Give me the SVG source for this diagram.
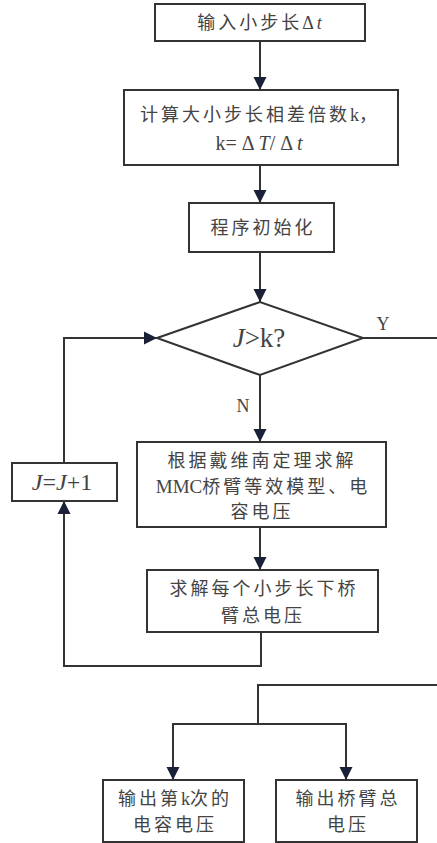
<svg xmlns="http://www.w3.org/2000/svg" width="437" height="843" viewBox="0 0 437 843">
<style>
.box{fill:#fff;stroke:#333;stroke-width:2}
.ln{fill:none;stroke:#333;stroke-width:2}
.t{font-family:"Liberation Serif","Noto Sans CJK SC",serif;font-size:18px;fill:#444;text-anchor:middle;letter-spacing:3px}
.lat{font-family:"Liberation Serif",serif;font-size:20px;fill:#444;text-anchor:middle}
.it{font-style:italic}
.ns{letter-spacing:0}
</style>
<defs>
<marker id="ah" markerWidth="13" markerHeight="16" refX="13" refY="7.5" orient="auto" markerUnits="userSpaceOnUse">
<path d="M0,1 L13,7.5 L0,14 Z" fill="#1a2038"/>
</marker>
</defs>
<rect width="437" height="843" fill="#fff"/>
<g id="connectors">
<line class="ln" x1="260" y1="41" x2="260" y2="90" marker-end="url(#ah)"/>
<line class="ln" x1="260" y1="165" x2="260" y2="203" marker-end="url(#ah)"/>
<line class="ln" x1="260" y1="252" x2="260" y2="302" marker-end="url(#ah)"/>
<line class="ln" x1="260" y1="375" x2="260" y2="442" marker-end="url(#ah)"/>
<line class="ln" x1="260" y1="527" x2="260" y2="570" marker-end="url(#ah)"/>
<polyline class="ln" points="261,632 261,666 64,666 64,501" marker-end="url(#ah)"/>
<polyline class="ln" points="64,463 64,338 157,338" marker-end="url(#ah)"/>
<polyline class="ln" points="363,338 437,338"/>
<polyline class="ln" points="437,685 258,685 258,724"/>
<polyline class="ln" points="173,724 346,724"/>
<line class="ln" x1="173" y1="723" x2="173" y2="780" marker-end="url(#ah)"/>
<line class="ln" x1="346" y1="723" x2="346" y2="780" marker-end="url(#ah)"/>
<text x="383" y="330" class="lat" style="font-size:18px">Y</text>
<text x="243" y="412" class="lat" style="font-size:18px">N</text>
</g>
<g id="n1">
<rect class="box" x="155" y="4" width="210" height="37"/>
<text class="t" x="261" y="29">输入小步长<tspan font-family="Liberation Serif">Δ</tspan><tspan class="it" font-family="Liberation Serif">t</tspan></text>
</g>
<g id="n2">
<rect class="box" x="124" y="90" width="274" height="75"/>
<text class="t" x="260" y="121">计算大小步长相差倍数<tspan class="ns">k</tspan>，</text>
<text class="lat" x="259" y="150">k= Δ <tspan class="it">T</tspan>/ Δ <tspan class="it">t</tspan></text>
</g>
<g id="n3">
<rect class="box" x="189" y="203" width="145" height="49"/>
<text class="t" x="263" y="234">程序初始化</text>
</g>
<g id="n4">
<polygon class="box" points="157,338 260,302 363,338 260,375"/>
<text class="lat" x="259" y="347" style="font-size:27px"><tspan class="it">J</tspan>&gt;k?</text>
</g>
<g id="n5">
<rect class="box" x="12" y="463" width="105" height="38"/>
<text class="lat" x="62" y="490" style="font-size:24px"><tspan class="it">J</tspan>=<tspan class="it">J</tspan>+1</text>
</g>
<g id="n6">
<rect class="box" x="137" y="442" width="249" height="85"/>
<text class="t" x="262" y="467">根据戴维南定理求解</text>
<text class="t" x="263" y="493"><tspan class="ns" font-size="19">MMC</tspan>桥臂等效模型、电</text>
<text class="t" x="262" y="518">容电压</text>
</g>
<g id="n7">
<rect class="box" x="147" y="570" width="231" height="62"/>
<text class="t" x="264" y="595">求解每个小步长下桥</text>
<text class="t" x="263" y="622">臂总电压</text>
</g>
<g id="n8">
<rect class="box" x="103" y="780" width="141" height="62"/>
<text class="t" x="175" y="805">输出第<tspan class="ns">k</tspan>次的</text>
<text class="t" x="175" y="831">电容电压</text>
</g>
<g id="n9">
<rect class="box" x="276" y="780" width="141" height="62"/>
<text class="t" x="348" y="805">输出桥臂总</text>
<text class="t" x="348" y="831">电压</text>
</g>
</svg>
